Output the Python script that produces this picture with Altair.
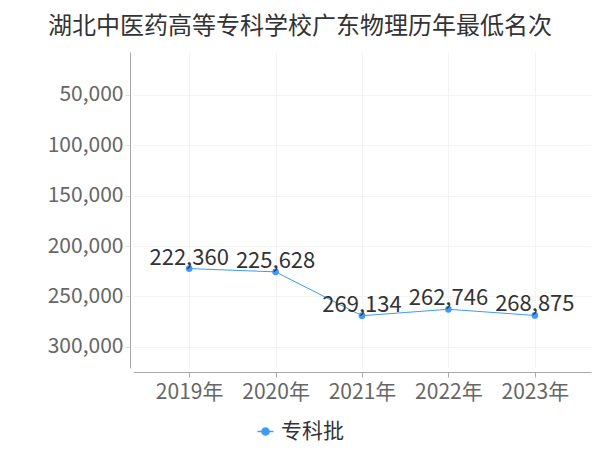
import altair as alt
import pandas as pd

years = ["2019年", "2020年", "2021年", "2022年", "2023年"]
ranks = [222360, 225628, 269134, 262746, 268875]
batch = ["专科批"] * 5
y_ticks = [50000, 100000, 150000, 200000, 250000, 300000]

df = pd.DataFrame({"year": years, "rank": ranks, "batch": batch})

FONT = "Noto Sans CJK SC, sans-serif"
BLUE = "#3d9bfb"

x_enc = alt.X(
    "year:O", sort=years,
    scale=alt.Scale(type="point", padding=0.65),
    axis=alt.Axis(title=None, labelAngle=0, labelFontSize=21, labelColor="#666",
                  labelFont=FONT, domainColor="#aaa", tickColor="#aaa", tickSize=5,
                  labelPadding=4, offset=4, grid=True, gridColor="#f3f3f3"),
)
y_enc = alt.Y(
    "rank:Q",
    scale=alt.Scale(domain=[7500, 321000], reverse=True, nice=False, zero=False),
    axis=alt.Axis(title=None, values=y_ticks, labelExpr="format(datum.value, ',')",
                  labelFontSize=21, labelColor="#666", labelFont=FONT,
                  domainColor="#aaa", tickColor="#e0e0e0", tickSize=5,
                  labelPadding=2, offset=3, grid=True, gridColor="#f3f3f3"),
)
color_enc = alt.Color(
    "batch:N", scale=alt.Scale(range=[BLUE]),
    legend=alt.Legend(
        title=None, orient="none", legendX=122, legendY=369, padding=0,
        symbolType="M-1,0L1,0M-0.45,0A0.45,0.45,0,1,0,0.45,0A0.45,0.45,0,1,0,-0.45,0",
        symbolSize=256, symbolStrokeWidth=1.5, symbolFillColor=BLUE,
        symbolStrokeColor=BLUE, labelFontSize=21, labelColor="#333",
        labelFont=FONT, labelOffset=5,
    ),
)

base = alt.Chart(df).encode(x=x_enc, y=y_enc)
line = base.mark_line(strokeWidth=1).encode(color=color_enc)
pts = base.mark_point(filled=True, size=45, opacity=1).encode(color=color_enc)
labels = base.mark_text(dy=-4, baseline="alphabetic", fontSize=22, color="#333",
                        font=FONT).encode(text=alt.Text("rank:Q", format=","))

chart = alt.layer(line, pts, labels).properties(
    width=458, height=316,
    autosize=alt.AutoSizeParams(type="none"),
    padding={"left": 125, "top": 44, "right": 1, "bottom": 80},
    title=alt.TitleParams(
        "湖北中医药高等专科学校广东物理历年最低名次", fontSize=24, font=FONT,
        color="#333", fontWeight="normal", anchor="middle", dx=-62, offset=13,
        limit=580,
    ),
).configure_view(stroke=None)

chart.save("out.html", embed_options={"renderer": "svg", "actions": False})
